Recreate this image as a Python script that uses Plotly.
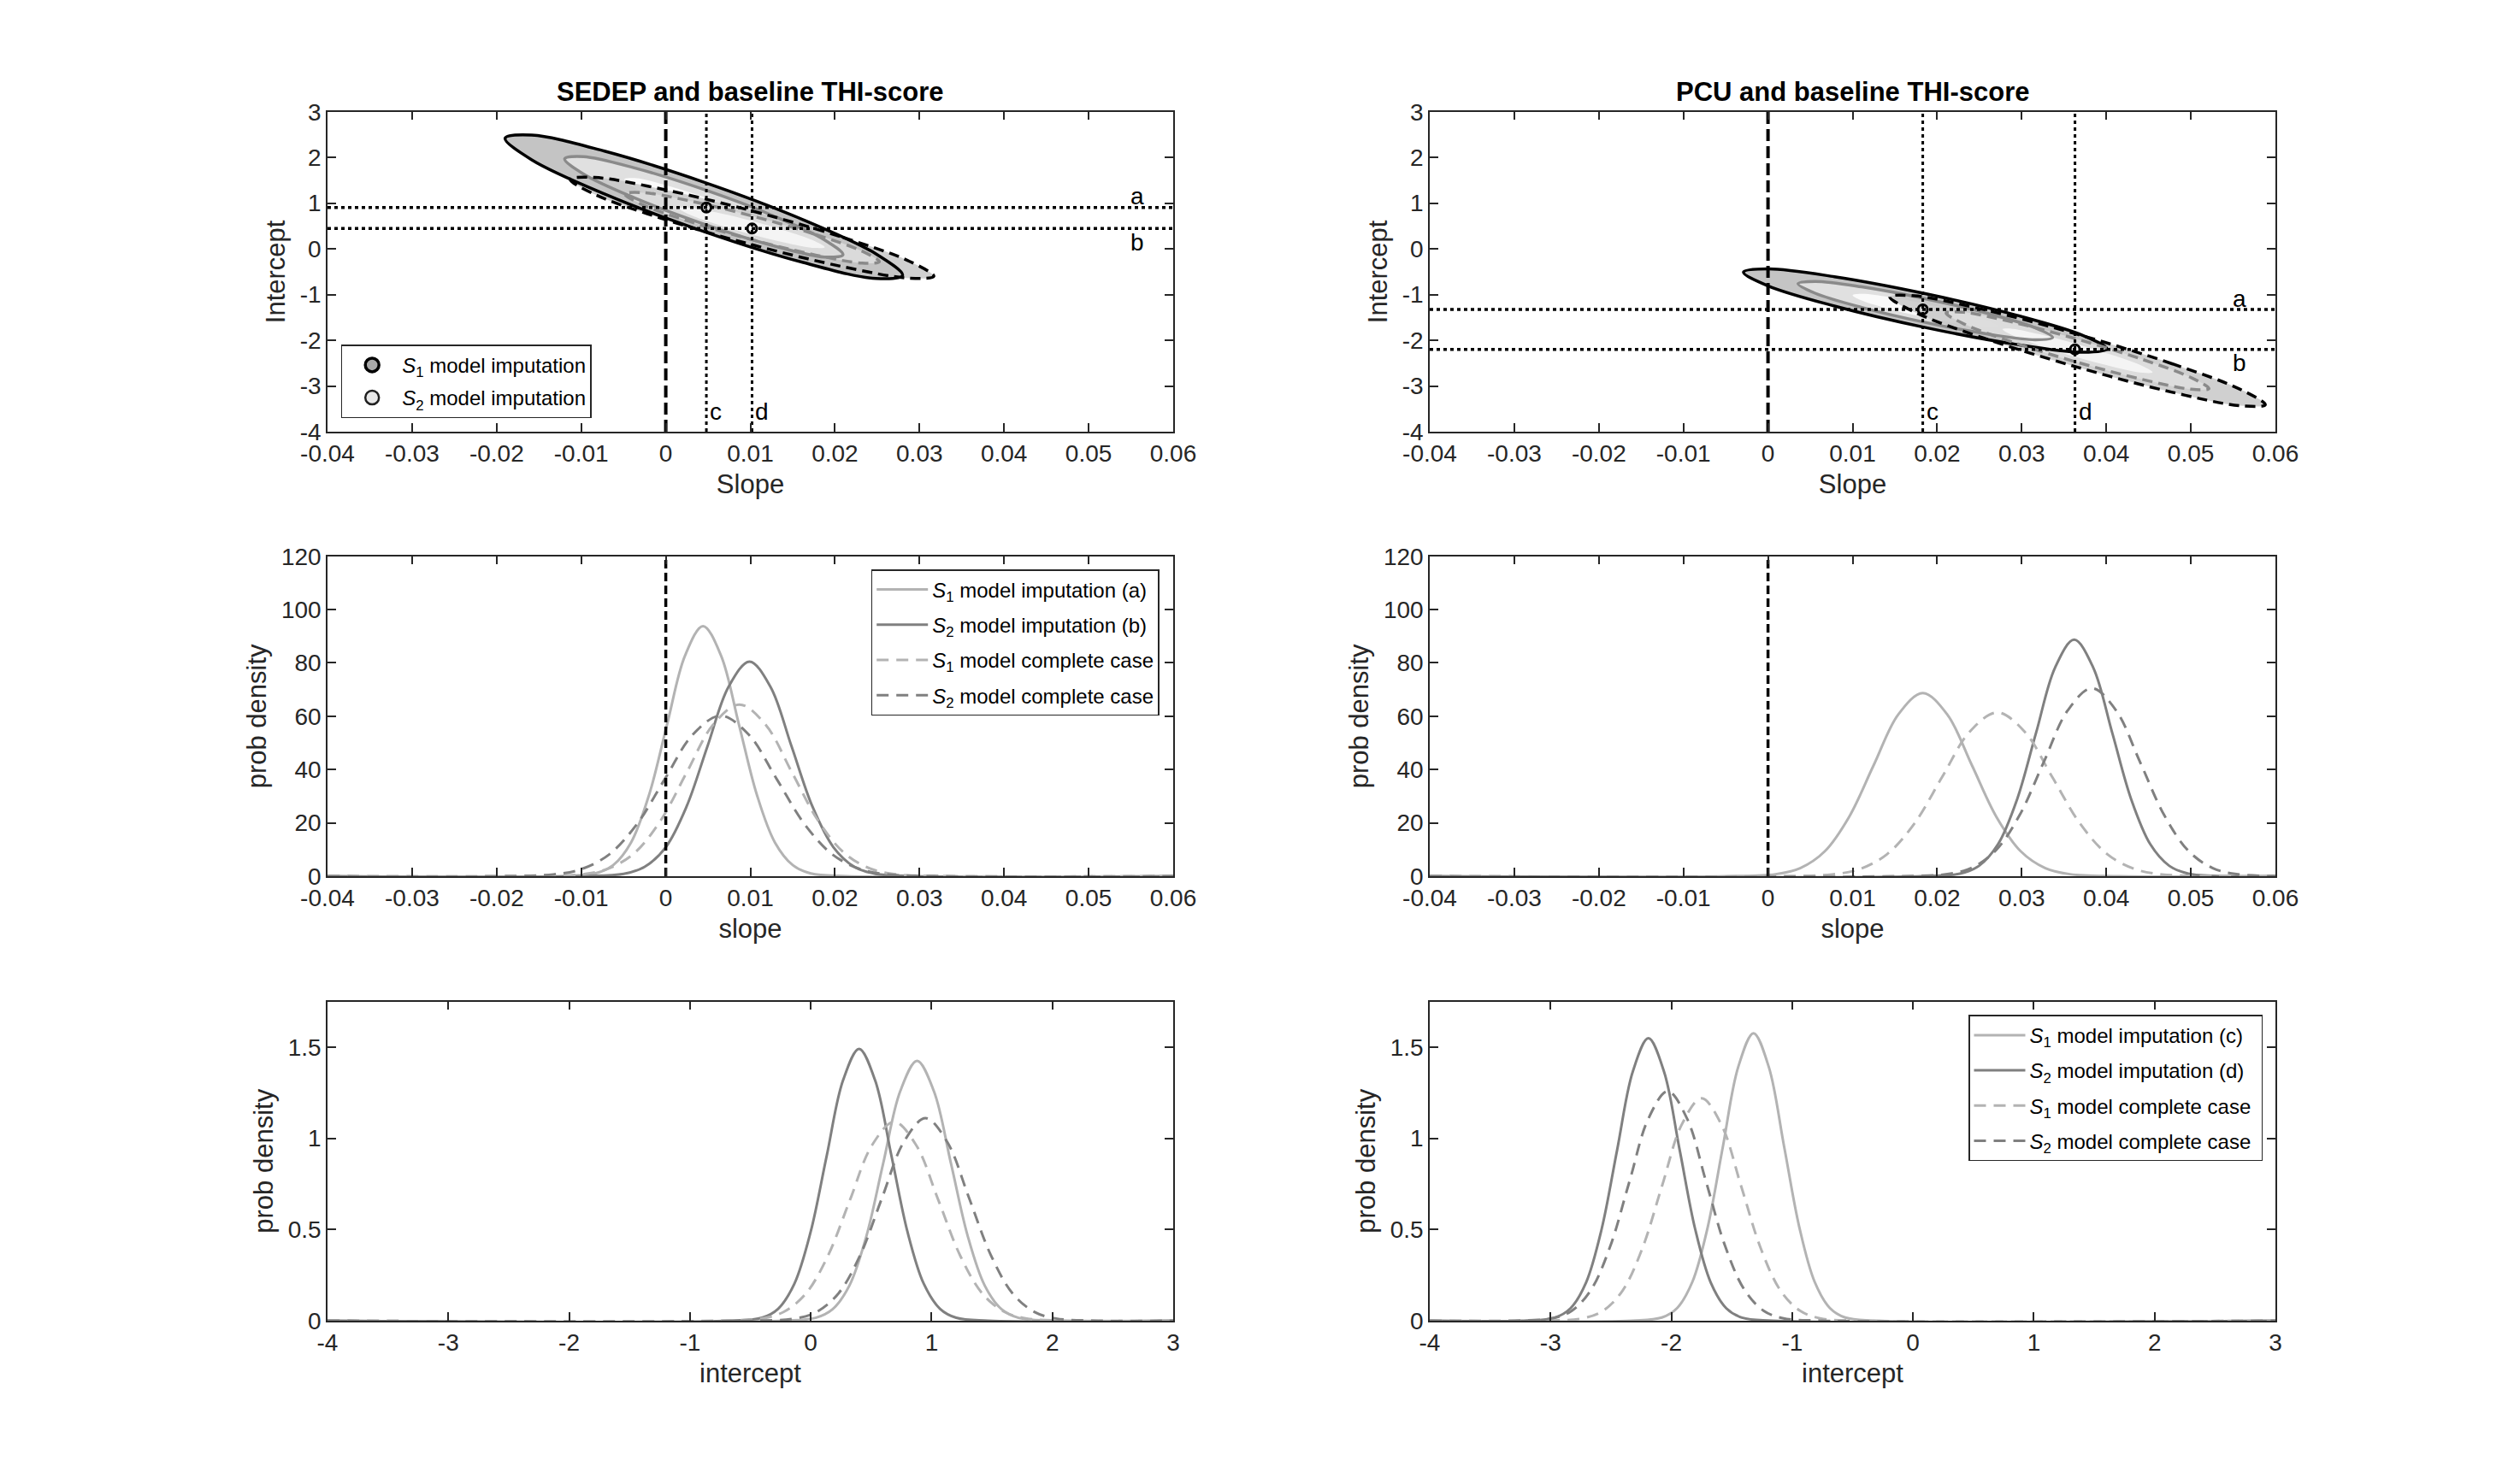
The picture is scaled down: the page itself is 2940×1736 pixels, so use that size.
import plotly.graph_objects as go

FONT = "Liberation Sans, Arial, Helvetica, sans-serif"
INK = "#262626"
LIGHT = "#b3b3b3"
DARK = "#808080"
RING = "#8a8a8a"

# ---------------- axis ranges / ticks ----------------
slope_range = [-0.04, 0.06]
slope_ticks = [-0.04, -0.03, -0.02, -0.01, 0, 0.01, 0.02, 0.03, 0.04, 0.05, 0.06]
slope_ticklabels = ["-0.04", "-0.03", "-0.02", "-0.01", "0", "0.01", "0.02", "0.03", "0.04", "0.05", "0.06"]
icpt_range = [-4, 3]
icpt_ticks = [-4, -3, -2, -1, 0, 1, 2, 3]
icpt_ticklabels = ["-4", "-3", "-2", "-1", "0", "1", "2", "3"]
dens_slope_range = [0, 120]
dens_slope_ticks = [0, 20, 40, 60, 80, 100, 120]
dens_slope_ticklabels = ["0", "20", "40", "60", "80", "100", "120"]
dens_icpt_range = [0, 1.75]
dens_icpt_ticks = [0, 0.5, 1, 1.5]
dens_icpt_ticklabels = ["0", "0.5", "1", "1.5"]
zero_ref = [0, 0]

# ---------------- reference values (dotted lines a, b, c, d) ----------------
tl_ab = [0.905, 0.444]      # intercepts a, b  (SEDEP)
tl_cd = [0.0048, 0.0102]    # slopes c, d      (SEDEP)
tr_ab = [-1.326, -2.199]    # intercepts a, b  (PCU)
tr_cd = [0.0183, 0.0363]    # slopes c, d      (PCU)

# ---------------- confidence ellipses (outer, middle, inner) ----------------
tl_s1_x1 = [0.0045, 0.01625, 0.02485, 0.028, 0.02485, 0.01625, 0.0045, -0.00725, -0.01585, -0.019, -0.01585, -0.00725, 0.0045]
tl_s1_y1 = [1.46, 0.6376, -0.109, -0.58, -0.649, -0.2976, 0.38, 1.2024, 1.949, 2.42, 2.489, 2.1376, 1.46]
tl_s1_x2 = [0.0045, 0.012725, 0.018745, 0.02095, 0.018745, 0.012725, 0.0045, -0.003725, -0.009745, -0.01195, -0.009745, -0.003725, 0.0045]
tl_s1_y2 = [1.298, 0.7223, 0.1997, -0.13, -0.1783, 0.0677, 0.542, 1.1177, 1.6403, 1.97, 2.0183, 1.7723, 1.298]
tl_s1_x3 = [0.0045, 0.0092, 0.01264, 0.0139, 0.01264, 0.0092, 0.0045, -0.0002, -0.00364, -0.0049, -0.00364, -0.0002, 0.0045]
tl_s1_y3 = [1.136, 0.807, 0.5084, 0.32, 0.2924, 0.433, 0.704, 1.033, 1.3316, 1.52, 1.5476, 1.407, 1.136]

tl_s2_x1 = [0.0102, 0.02095, 0.02882, 0.0317, 0.02882, 0.02095, 0.0102, -0.00055, -0.00842, -0.0113, -0.00842, -0.00055, 0.0102]
tl_s2_y1 = [0.83, 0.2504, -0.273, -0.60, -0.643, -0.3904, 0.09, 0.6696, 1.193, 1.52, 1.563, 1.3104, 0.83]
tl_s2_x2 = [0.0102, 0.017725, 0.023234, 0.02525, 0.023234, 0.017725, 0.0102, 0.002675, -0.002834, -0.00485, -0.002834, 0.002675, 0.0102]
tl_s2_y2 = [0.719, 0.3133, -0.0531, -0.282, -0.3121, -0.1353, 0.201, 0.6067, 0.9731, 1.202, 1.2321, 1.0553, 0.719]
tl_s2_x3 = [0.0102, 0.0145, 0.01765, 0.0188, 0.01765, 0.0145, 0.0102, 0.0059, 0.00275, 0.0016, 0.00275, 0.0059, 0.0102]
tl_s2_y3 = [0.608, 0.3762, 0.1668, 0.036, 0.0188, 0.1198, 0.312, 0.5438, 0.7532, 0.884, 0.9012, 0.8002, 0.608]

tr_s1_x1 = [0.0186, 0.02935, 0.03722, 0.0401, 0.03722, 0.02935, 0.0186, 0.00785, -0.00002, -0.0029, -0.00002, 0.00785, 0.0186]
tr_s1_y1 = [-0.98, -1.4496, -1.8924, -2.19, -2.2624, -2.0904, -1.72, -1.2504, -0.8076, -0.51, -0.4376, -0.6096, -0.98]
tr_s1_x2 = [0.0186, 0.026125, 0.031634, 0.03365, 0.031634, 0.026125, 0.0186, 0.011075, 0.005566, 0.00355, 0.005566, 0.011075, 0.0186]
tr_s1_y2 = [-1.091, -1.4197, -1.7297, -1.938, -1.9887, -1.8683, -1.609, -1.2803, -0.9703, -0.762, -0.7113, -0.8317, -1.091]
tr_s1_x3 = [0.0186, 0.0229, 0.02605, 0.0272, 0.02605, 0.0229, 0.0186, 0.0143, 0.01115, 0.01, 0.01115, 0.0143, 0.0186]
tr_s1_y3 = [-1.202, -1.3898, -1.567, -1.686, -1.715, -1.6462, -1.498, -1.3102, -1.133, -1.014, -0.985, -1.0538, -1.202]

tr_s2_x1 = [0.0366, 0.0477, 0.055825, 0.0588, 0.055825, 0.0477, 0.0366, 0.0255, 0.017375, 0.0144, 0.017375, 0.0255, 0.0366]
tr_s2_y1 = [-1.87, -2.5082, -3.0719, -3.41, -3.4319, -3.1318, -2.59, -1.9518, -1.3881, -1.05, -1.0281, -1.3282, -1.87]
tr_s2_x2 = [0.0366, 0.04437, 0.050058, 0.05214, 0.050058, 0.04437, 0.0366, 0.02883, 0.023142, 0.02106, 0.023142, 0.02883, 0.0366]
tr_s2_y2 = [-1.978, -2.4247, -2.8193, -3.056, -3.0713, -2.8613, -2.482, -2.0353, -1.6407, -1.404, -1.3887, -1.5987, -1.978]
tr_s2_x3 = [0.0366, 0.04104, 0.04429, 0.04548, 0.04429, 0.04104, 0.0366, 0.03216, 0.02891, 0.02772, 0.02891, 0.03216, 0.0366]
tr_s2_y3 = [-2.086, -2.3413, -2.5668, -2.702, -2.7108, -2.5907, -2.374, -2.1187, -1.8932, -1.758, -1.7492, -1.8693, -2.086]

# ---------------- slope densities ----------------
ml_s1_imp_x = [-0.04, -0.0126, -0.00835, -0.00623, -0.0041, -0.00198, 0.00015, 0.00228, 0.0044, 0.00653, 0.00865, 0.01078, 0.0129, 0.01503, 0.01715, 0.0214, 0.06]
ml_s1_imp_y = [0, 0.03, 1.04, 4.12, 12.69, 30.46, 56.89, 82.78, 93.8, 82.78, 56.89, 30.46, 12.69, 4.12, 1.04, 0.03, 0]
ml_s2_imp_x = [-0.04, -0.00994, -0.00498, -0.0025, 0.0, 0.00246, 0.00494, 0.00742, 0.0099, 0.01238, 0.01486, 0.01734, 0.01982, 0.0223, 0.02478, 0.02974, 0.06]
ml_s2_imp_y = [0, 0.02, 0.89, 3.53, 10.89, 26.14, 48.82, 71.04, 80.5, 71.04, 48.82, 26.14, 10.89, 3.53, 0.89, 0.02, 0]
ml_s1_cc_x = [-0.04, -0.0161, -0.0099, -0.0068, -0.0037, -0.0006, 0.0025, 0.0056, 0.0087, 0.0118, 0.0149, 0.018, 0.0211, 0.0242, 0.0273, 0.0335, 0.06]
ml_s1_cc_y = [0, 0.02, 0.71, 2.83, 8.71, 20.91, 39.06, 56.83, 64.4, 56.83, 39.06, 20.91, 8.71, 2.83, 0.71, 0.02, 0]
ml_s2_cc_x = [-0.04, -0.0199, -0.0133, -0.01, -0.0067, -0.0034, -0.0001, 0.0032, 0.0065, 0.0098, 0.0131, 0.0164, 0.0197, 0.023, 0.0263, 0.0329, 0.06]
ml_s2_cc_y = [0, 0.02, 0.67, 2.64, 8.15, 19.55, 36.51, 53.13, 60.2, 53.13, 36.51, 19.55, 8.15, 2.64, 0.67, 0.02, 0]

mr_s1_imp_x = [-0.04, -0.0049, 0.0009, 0.0038, 0.0067, 0.0096, 0.0125, 0.0154, 0.0183, 0.0212, 0.0241, 0.027, 0.0299, 0.0328, 0.0357, 0.0415, 0.06]
mr_s1_imp_y = [0, 0.02, 0.76, 3.02, 9.30, 22.31, 41.67, 60.63, 68.7, 60.63, 41.67, 22.31, 9.30, 3.02, 0.76, 0.02, 0]
mr_s2_imp_x = [-0.04, 0.0182, 0.0227, 0.02495, 0.0272, 0.02945, 0.0317, 0.03395, 0.0362, 0.03845, 0.0407, 0.04295, 0.0452, 0.04745, 0.0497, 0.0542, 0.06]
mr_s2_imp_y = [0, 0.03, 0.98, 3.89, 12.0, 28.8, 53.8, 78.28, 88.7, 78.28, 53.8, 28.8, 12.0, 3.89, 0.98, 0.03, 0]
mr_s1_cc_x = [-0.04, 0.0011, 0.0076, 0.01085, 0.0141, 0.01735, 0.0206, 0.02385, 0.0271, 0.03035, 0.0336, 0.03685, 0.0401, 0.04335, 0.0466, 0.0531, 0.06]
mr_s1_cc_y = [0, 0.02, 0.68, 2.70, 8.31, 19.94, 37.24, 54.19, 61.4, 54.19, 37.24, 19.94, 8.31, 2.70, 0.68, 0.02, 0]
mr_s2_cc_x = [-0.04, 0.0155, 0.0212, 0.02405, 0.0269, 0.02975, 0.0326, 0.03545, 0.0383, 0.04115, 0.044, 0.04685, 0.0497, 0.05255, 0.0554, 0.06]
mr_s2_cc_y = [0, 0.02, 0.78, 3.09, 9.54, 22.89, 42.76, 62.22, 70.5, 62.22, 42.76, 22.89, 9.54, 3.09, 0.78, 0.05]

# ---------------- intercept densities ----------------
bl_s1_imp_x = [-4, -0.24, 0.04, 0.18, 0.32, 0.46, 0.6, 0.74, 0.88, 1.02, 1.16, 1.30, 1.44, 1.58, 1.72, 2.0, 3]
bl_s1_imp_y = [0, 0.0004, 0.0158, 0.0625, 0.1927, 0.4624, 0.8637, 1.2567, 1.424, 1.2567, 0.8637, 0.4624, 0.1927, 0.0625, 0.0158, 0.0004, 0]
bl_s2_imp_x = [-4, -0.672, -0.404, -0.27, -0.136, -0.002, 0.132, 0.266, 0.40, 0.534, 0.668, 0.802, 0.936, 1.07, 1.204, 1.472, 3]
bl_s2_imp_y = [0, 0.0004, 0.0165, 0.0654, 0.2016, 0.4838, 0.9037, 1.3149, 1.49, 1.3149, 0.9037, 0.4838, 0.2016, 0.0654, 0.0165, 0.0004, 0]
bl_s1_cc_x = [-4, -0.774, -0.408, -0.225, -0.042, 0.141, 0.324, 0.507, 0.69, 0.873, 1.056, 1.239, 1.422, 1.605, 1.788, 2.154, 3]
bl_s1_cc_y = [0, 0.0003, 0.0121, 0.0479, 0.1475, 0.3539, 0.6611, 0.9619, 1.09, 0.9619, 0.6611, 0.3539, 0.1475, 0.0479, 0.0121, 0.0003, 0]
bl_s2_cc_x = [-4, -0.49, -0.13, 0.05, 0.23, 0.41, 0.59, 0.77, 0.95, 1.13, 1.31, 1.49, 1.67, 1.85, 2.03, 2.39, 3]
bl_s2_cc_y = [0, 0.0003, 0.0123, 0.0487, 0.1502, 0.3604, 0.6732, 0.9796, 1.11, 0.9796, 0.6732, 0.3604, 0.1502, 0.0487, 0.0123, 0.0003, 0]

br_s1_imp_x = [-4, -2.332, -2.079, -1.9525, -1.826, -1.6995, -1.573, -1.4465, -1.32, -1.1935, -1.067, -0.9405, -0.814, -0.6875, -0.561, -0.308, 3]
br_s1_imp_y = [0, 0.0005, 0.0175, 0.0692, 0.2132, 0.5117, 0.9558, 1.3908, 1.576, 1.3908, 0.9558, 0.5117, 0.2132, 0.0692, 0.0175, 0.0005, 0]
br_s2_imp_x = [-4, -3.222, -2.964, -2.835, -2.706, -2.577, -2.448, -2.319, -2.19, -2.061, -1.932, -1.803, -1.674, -1.545, -1.416, -1.158, 3]
br_s2_imp_y = [0, 0.0005, 0.0172, 0.068, 0.2094, 0.5026, 0.9389, 1.3661, 1.548, 1.3661, 0.9389, 0.5026, 0.2094, 0.068, 0.0172, 0.0005, 0]
br_s1_cc_x = [-4, -3.058, -2.731, -2.5675, -2.404, -2.2405, -2.077, -1.9135, -1.75, -1.5865, -1.423, -1.2595, -1.096, -0.9325, -0.769, -0.442, 3]
br_s1_cc_y = [0, 0.0004, 0.0135, 0.0535, 0.1649, 0.3958, 0.7393, 1.0758, 1.219, 1.0758, 0.7393, 0.3958, 0.1649, 0.0535, 0.0135, 0.0004, 0]
br_s2_cc_x = [-4, -3.298, -2.981, -2.8225, -2.664, -2.5055, -2.347, -2.1885, -2.03, -1.8715, -1.713, -1.5545, -1.396, -1.2375, -1.079, -0.762, 3]
br_s2_cc_y = [0, 0.0004, 0.014, 0.0552, 0.1702, 0.4085, 0.763, 1.1102, 1.258, 1.1102, 0.763, 0.4085, 0.1702, 0.0552, 0.014, 0.0004, 0]

S1 = "<i>S</i><sub>1</sub>"
S2 = "<i>S</i><sub>2</sub>"

fig = go.Figure()


def ax_ids(p):
    return ("x" if p == 1 else f"x{p}", "y" if p == 1 else f"y{p}")


def add_line(p, x, y, color, width, dash="solid", name=None, legend=None, shape="spline"):
    ax, ay = ax_ids(p)
    fig.add_trace(go.Scatter(
        x=x, y=y, xaxis=ax, yaxis=ay, mode="lines",
        line=dict(color=color, width=width, dash=dash, shape=shape),
        name=name, showlegend=name is not None, legend=legend,
        legendgroup=name, hoverinfo="skip"))


def add_fill(p, x, y, color, opacity=1.0):
    ax, ay = ax_ids(p)
    fig.add_trace(go.Scatter(
        x=x, y=y, xaxis=ax, yaxis=ay, mode="lines", fill="toself",
        fillcolor=color, opacity=opacity, line=dict(width=0, shape="spline"),
        showlegend=False, hoverinfo="skip"))


FILLS = ["#c4c4c4", "#e0e0e0", "#fafafa"]


def ellipse_panel(p, s1, s2, ab, cd):
    for (x, y), c in zip(s1, FILLS):
        add_fill(p, x, y, c)
    for (x, y), c in zip(s2, FILLS):
        add_fill(p, x, y, c, opacity=0.8)
    add_line(p, s1[0][0], s1[0][1], "black", 3.5)
    add_line(p, s1[1][0], s1[1][1], RING, 3.5)
    add_line(p, s2[0][0], s2[0][1], "black", 3.5, dash="12px,7px")
    add_line(p, s2[1][0], s2[1][1], RING, 3.5, dash="12px,7px")
    # zero-slope line
    add_line(p, zero_ref, icpt_range, "black", 4, dash="14px,6px", shape="linear")
    # dotted guide lines
    for v in ab:
        add_line(p, slope_range, [v, v], "black", 3.5, dash="4px,4px", shape="linear")
    for v in cd:
        add_line(p, [v, v], icpt_range, "black", 3, dash="4px,4px", shape="linear")
    ax, ay = ax_ids(p)
    fig.add_trace(go.Scatter(
        x=cd, y=ab, xaxis=ax, yaxis=ay, mode="markers",
        marker=dict(symbol="circle-open", size=11, color="black", line=dict(width=3)),
        showlegend=False, hoverinfo="skip"))
    # letters
    for txt, yy in zip(["a", "b"], [ab[0] + 0.24, ab[1] - 0.3]):
        fig.add_annotation(x=0.0558, y=yy, xref=ax, yref=ay, text=txt, showarrow=False,
                           font=dict(size=28, color="black", family=FONT))
    for txt, xx in zip(["c", "d"], cd):
        fig.add_annotation(x=xx, y=-3.56, xref=ax, yref=ay, text=txt, showarrow=False,
                           xanchor="left", xshift=2,
                           font=dict(size=28, color="black", family=FONT))


ellipse_panel(1,
              [(tl_s1_x1, tl_s1_y1), (tl_s1_x2, tl_s1_y2), (tl_s1_x3, tl_s1_y3)],
              [(tl_s2_x1, tl_s2_y1), (tl_s2_x2, tl_s2_y2), (tl_s2_x3, tl_s2_y3)],
              tl_ab, tl_cd)
ellipse_panel(2,
              [(tr_s1_x1, tr_s1_y1), (tr_s1_x2, tr_s1_y2), (tr_s1_x3, tr_s1_y3)],
              [(tr_s2_x1, tr_s2_y1), (tr_s2_x2, tr_s2_y2), (tr_s2_x3, tr_s2_y3)],
              tr_ab, tr_cd)

# legend entries for the ellipse panel
fig.add_trace(go.Scatter(x=[None], y=[None], mode="markers", name=S1 + " model imputation",
                         marker=dict(symbol="circle", size=16, color="#a8a8a8", line=dict(color="black", width=3.5)),
                         legend="legend", legendgroup="e1"))
fig.add_trace(go.Scatter(x=[None], y=[None], mode="markers", name=S2 + " model imputation",
                         marker=dict(symbol="circle", size=16, color="#e8e8e8", line=dict(color="#202020", width=2.5)),
                         legend="legend", legendgroup="e2"))

DASH = "14px,9px"
# middle-left
add_line(3, ml_s1_imp_x, ml_s1_imp_y, LIGHT, 3, name=S1 + " model imputation (a)", legend="legend2")
add_line(3, ml_s2_imp_x, ml_s2_imp_y, DARK, 3, name=S2 + " model imputation (b)", legend="legend2")
add_line(3, ml_s1_cc_x, ml_s1_cc_y, LIGHT, 3, dash=DASH, name=S1 + " model complete case", legend="legend2")
add_line(3, ml_s2_cc_x, ml_s2_cc_y, DARK, 3, dash=DASH, name=S2 + " model complete case", legend="legend2")
add_line(3, zero_ref, dens_slope_range, "black", 3.5, dash="10px,5px", shape="linear")
# middle-right
add_line(4, mr_s1_imp_x, mr_s1_imp_y, LIGHT, 3)
add_line(4, mr_s2_imp_x, mr_s2_imp_y, DARK, 3)
add_line(4, mr_s1_cc_x, mr_s1_cc_y, LIGHT, 3, dash=DASH)
add_line(4, mr_s2_cc_x, mr_s2_cc_y, DARK, 3, dash=DASH)
add_line(4, zero_ref, dens_slope_range, "black", 3.5, dash="10px,5px", shape="linear")
# bottom-left
add_line(5, bl_s1_imp_x, bl_s1_imp_y, LIGHT, 3)
add_line(5, bl_s2_imp_x, bl_s2_imp_y, DARK, 3)
add_line(5, bl_s1_cc_x, bl_s1_cc_y, LIGHT, 3, dash=DASH)
add_line(5, bl_s2_cc_x, bl_s2_cc_y, DARK, 3, dash=DASH)
# bottom-right
add_line(6, br_s1_imp_x, br_s1_imp_y, LIGHT, 3, name=S1 + " model imputation (c)", legend="legend3")
add_line(6, br_s2_imp_x, br_s2_imp_y, DARK, 3, name=S2 + " model imputation (d)", legend="legend3")
add_line(6, br_s1_cc_x, br_s1_cc_y, LIGHT, 3, dash=DASH, name=S1 + " model complete case ", legend="legend3")
add_line(6, br_s2_cc_x, br_s2_cc_y, DARK, 3, dash=DASH, name=S2 + " model complete case ", legend="legend3")

# the page body has an 8px margin: size the figure to fit and shift positions by it
OFF = 8
W, H = 2940 - 2 * OFF, 1736 - 2 * OFF


def px_x(v):
    return (v - OFF) / W


def px_y(v):
    return 1 - (v - OFF) / H


XL = [px_x(383), px_x(1372)]
XR = [px_x(1672), px_x(2661)]
YT = [px_y(505), px_y(130.7)]
YM = [px_y(1025), px_y(650.7)]
YB = [px_y(1545), px_y(1171.5)]


def axis(domain, rng, tv, tt, title, anchor, standoff):
    return dict(domain=domain, range=rng, tickvals=tv, ticktext=tt, anchor=anchor,
                title=dict(text=title, font=dict(size=31, color=INK, family=FONT), standoff=standoff),
                showline=True, linecolor=INK, linewidth=1.5, mirror="ticks",
                ticks="inside", ticklen=10, tickwidth=1.5, tickcolor=INK,
                showgrid=False, zeroline=False, automargin=False, fixedrange=True,
                tickfont=dict(size=28, color=INK, family=FONT))


legend_common = dict(bgcolor="white", bordercolor=INK, borderwidth=1.5,
                     font=dict(size=24, color="black", family=FONT),
                     traceorder="grouped", itemwidth=60)

fig.update_layout(
    width=W, height=H, margin=dict(l=0, r=0, t=0, b=0),
    paper_bgcolor="white", plot_bgcolor="white",
    font=dict(family=FONT, color=INK),
    xaxis=axis(XL, slope_range, slope_ticks, slope_ticklabels, "Slope", "y", 10),
    yaxis=axis(YT, icpt_range, icpt_ticks, icpt_ticklabels, "Intercept", "x", 8),
    xaxis2=axis(XR, slope_range, slope_ticks, slope_ticklabels, "Slope", "y2", 10),
    yaxis2=axis(YT, icpt_range, icpt_ticks, icpt_ticklabels, "Intercept", "x2", 8),
    xaxis3=axis(XL, slope_range, slope_ticks, slope_ticklabels, "slope", "y3", 10),
    yaxis3=axis(YM, dens_slope_range, dens_slope_ticks, dens_slope_ticklabels, "prob density", "x3", 8),
    xaxis4=axis(XR, slope_range, slope_ticks, slope_ticklabels, "slope", "y4", 10),
    yaxis4=axis(YM, dens_slope_range, dens_slope_ticks, dens_slope_ticklabels, "prob density", "x4", 8),
    xaxis5=axis(XL, icpt_range, icpt_ticks, icpt_ticklabels, "intercept", "y5", 10),
    yaxis5=axis(YB, dens_icpt_range, dens_icpt_ticks, dens_icpt_ticklabels, "prob density", "x5", 8),
    xaxis6=axis(XR, icpt_range, icpt_ticks, icpt_ticklabels, "intercept", "y6", 10),
    yaxis6=axis(YB, dens_icpt_range, dens_icpt_ticks, dens_icpt_ticklabels, "prob density", "x6", 8),
    legend=dict(x=px_x(398.7), y=px_y(489.3), xanchor="left", yanchor="bottom",
                tracegroupgap=4, **legend_common),
    legend2=dict(x=px_x(1355.7), y=px_y(666), xanchor="right", yanchor="top",
                 tracegroupgap=7, **legend_common),
    legend3=dict(x=px_x(2646), y=px_y(1187.3), xanchor="right", yanchor="top",
                 tracegroupgap=7, **legend_common),
)

for xd, txt in [(XL, "SEDEP and baseline THI-score"), (XR, "PCU and baseline THI-score")]:
    fig.add_annotation(x=(xd[0] + xd[1]) / 2, y=YT[1], xref="paper", yref="paper",
                       xanchor="center", yanchor="bottom", yshift=4, showarrow=False,
                       text="<b>" + txt + "</b>",
                       font=dict(size=31, color="black", family=FONT))

fig.write_html("out.html")
